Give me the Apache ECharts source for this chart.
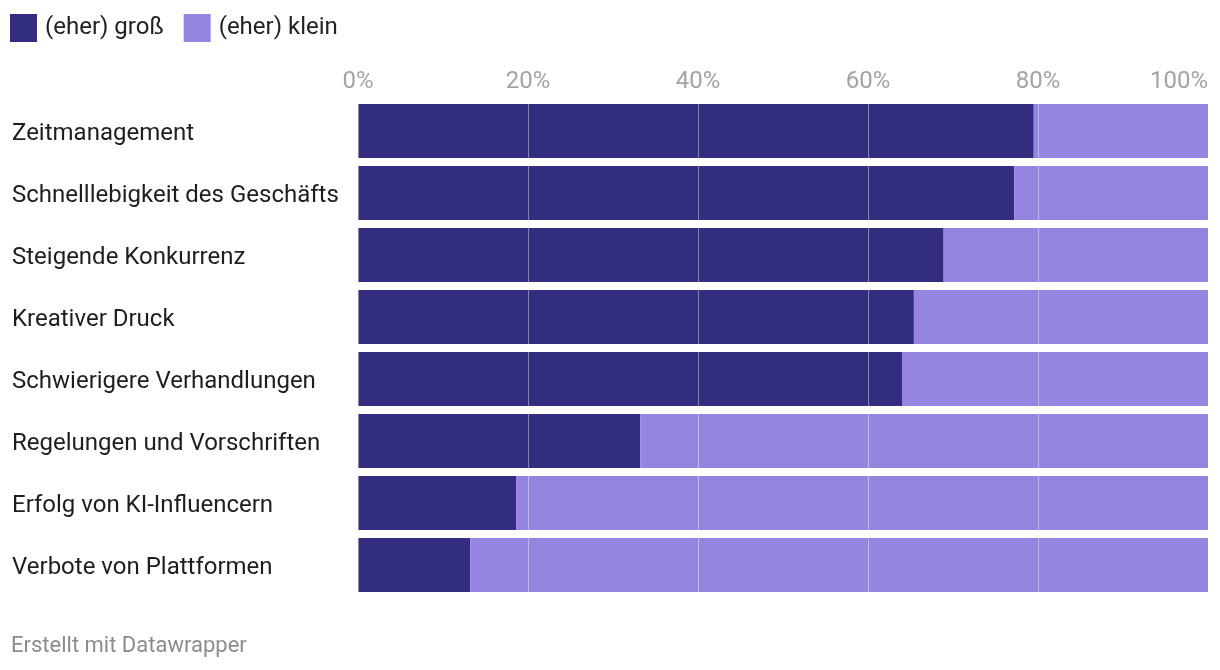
<!DOCTYPE html>
<html>
<head>
<meta charset="utf-8">
<script src="https://cdn.jsdelivr.net/npm/echarts@6/dist/echarts.min.js"></script>
<style>
html,body{margin:0;padding:0;background:#fff;}
#chart{width:1220px;height:670px;}
</style>
</head>
<body>
<div id="chart"></div>
<script>
const categories = [
  "Zeitmanagement",
  "Schnelllebigkeit des Geschäfts",
  "Steigende Konkurrenz",
  "Kreativer Druck",
  "Schwierigere Verhandlungen",
  "Regelungen und Vorschriften",
  "Erfolg von KI-Influencern",
  "Verbote von Plattformen"
];
const grossValues = [79.5, 77.2, 68.9, 65.4, 64.0, 33.2, 18.6, 13.2];
const kleinValues = [20.5, 22.8, 31.1, 34.6, 36.0, 66.8, 81.4, 86.8];
const seriesNames = ["(eher) groß", "(eher) klein"];
const footerText = "Erstellt mit Datawrapper";

const FONT = "Roboto";
const chart = echarts.init(document.getElementById('chart'), null, {renderer: 'canvas'});
chart.setOption({
  animation: false,
  backgroundColor: '#ffffff',
  title: {
    text: footerText,
    left: 11,
    top: 635,
    padding: 0,
    textStyle: {fontFamily: FONT, fontSize: 22, fontWeight: 'normal', color: '#8c8c8c'}
  },
  legend: {
    left: 10,
    top: 14,
    padding: 0,
    itemWidth: 27,
    itemHeight: 28,
    itemGap: 20,
    icon: 'rect',
    selectedMode: false,
    textStyle: {fontFamily: FONT, fontSize: 24, color: '#222222', padding: [2, 0, 0, 3]},
    data: seriesNames
  },
  grid: {left: 358, right: 12, top: 100, bottom: 74, containLabel: false},
  xAxis: {
    type: 'value',
    position: 'top',
    min: 0,
    max: 100,
    interval: 20,
    z: 10,
    axisLine: {show: false},
    axisTick: {show: false},
    axisLabel: {
      formatter: '{value}%',
      fontFamily: FONT,
      fontSize: 24,
      color: '#a3a3a3',
      margin: 6,
      alignMaxLabel: 'right'
    },
    splitLine: {show: true, lineStyle: {color: 'rgba(255,255,255,0.4)', width: 1}}
  },
  yAxis: {
    type: 'category',
    data: categories,
    inverse: true,
    axisLine: {show: false},
    axisTick: {show: false},
    axisLabel: {
      align: 'left',
      margin: 346,
      fontFamily: FONT,
      fontSize: 24,
      color: '#1e1e1e',
      formatter: function (v) { return '{a|' + v + '}'; },
      rich: {
        a: {fontFamily: FONT, fontSize: 24, color: '#1e1e1e', padding: [6, 0, 0, 0]}
      }
    }
  },
  series: [
    {
      name: seriesNames[0],
      type: 'bar',
      stack: 'total',
      barWidth: 54,
      data: grossValues,
      itemStyle: {color: '#332d80'}
    },
    {
      name: seriesNames[1],
      type: 'bar',
      stack: 'total',
      barWidth: 54,
      data: kleinValues,
      itemStyle: {color: '#9485e0'}
    }
  ]
});
</script>
</body>
</html>
